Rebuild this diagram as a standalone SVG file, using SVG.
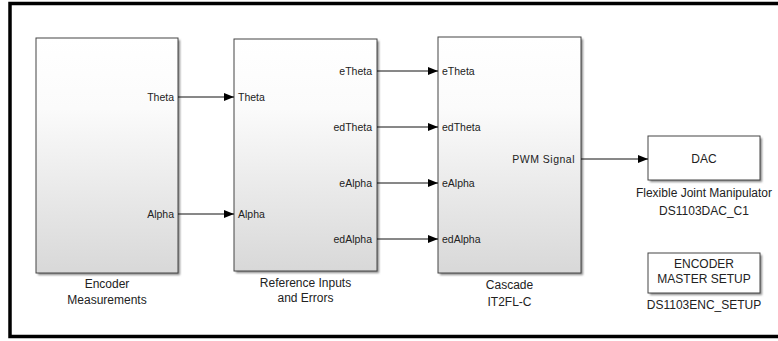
<svg xmlns="http://www.w3.org/2000/svg" width="778" height="341" viewBox="0 0 778 341">
<style>
.blk{stroke:#444;stroke-width:1;}
.grad{fill:url(#g);}
.wht{fill:#fff;}
.sh{fill:#888;filter:url(#blur);}
.pl{font-family:"Liberation Sans",Arial,sans-serif;font-size:10.5px;fill:#222;}
.bl{font-family:"Liberation Sans",Arial,sans-serif;font-size:12px;fill:#222;text-anchor:middle;}
.wire{stroke:#111;stroke-width:1;fill:none;marker-end:url(#ah);}
</style>
<defs>
<linearGradient id="g" x1="0" y1="0" x2="0" y2="1">
<stop offset="0" stop-color="#ffffff"/>
<stop offset="0.3" stop-color="#fbfbfb"/>
<stop offset="1" stop-color="#d8d8d8"/>
</linearGradient>
<filter id="blur" x="-10%" y="-10%" width="120%" height="120%"><feGaussianBlur stdDeviation="1"/></filter>
<marker id="ah" viewBox="0 0 10 8" refX="10" refY="4" markerWidth="10" markerHeight="8" markerUnits="userSpaceOnUse" orient="auto">
<path d="M0,0 L10,4 L0,8 Z" fill="#000"/>
</marker>
</defs>
<rect width="778" height="341" fill="#fff"/>
<path d="M790,3.5 H10 V336.5 H790" fill="none" stroke="#000" stroke-width="3.5"/>

<g id="encoder-measurements">
<rect class="sh" x="38" y="40" width="142" height="235"/>
<rect class="blk grad" x="36" y="38" width="142" height="235"/>
<text class="pl" x="174" y="100.5" text-anchor="end">Theta</text>
<text class="pl" x="174" y="217.5" text-anchor="end">Alpha</text>
<text class="bl" x="107" y="288">Encoder</text>
<text class="bl" x="107" y="304">Measurements</text>
</g>

<g id="reference-inputs">
<rect class="sh" x="236" y="41" width="143" height="232"/>
<rect class="blk grad" x="234" y="39" width="143" height="232"/>
<text class="pl" x="238" y="100.5">Theta</text>
<text class="pl" x="238" y="217.5">Alpha</text>
<text class="pl" x="372" y="74.5" text-anchor="end">eTheta</text>
<text class="pl" x="372" y="130.5" text-anchor="end">edTheta</text>
<text class="pl" x="372" y="186.5" text-anchor="end">eAlpha</text>
<text class="pl" x="372" y="242.5" text-anchor="end">edAlpha</text>
<text class="bl" x="305.5" y="287">Reference Inputs</text>
<text class="bl" x="305.5" y="302">and Errors</text>
</g>

<g id="cascade">
<rect class="sh" x="440" y="39" width="143" height="236"/>
<rect class="blk grad" x="438" y="37" width="143" height="236"/>
<text class="pl" x="442" y="74.5">eTheta</text>
<text class="pl" x="442" y="130.5">edTheta</text>
<text class="pl" x="442" y="186.5">eAlpha</text>
<text class="pl" x="442" y="242.5">edAlpha</text>
<text class="pl" x="575" y="162.5" text-anchor="end" letter-spacing="0.5">PWM Signal</text>
<text class="bl" x="509.5" y="289">Cascade</text>
<text class="bl" x="509.5" y="306">IT2FL-C</text>
</g>

<g id="dac">
<rect class="sh" x="650" y="138" width="112" height="44"/>
<rect class="blk wht" x="648" y="136" width="112" height="44"/>
<text class="bl" x="704" y="162.5">DAC</text>
<text class="bl" x="704" y="197">Flexible Joint Manipulator</text>
<text class="bl" x="704" y="215">DS1103DAC_C1</text>
</g>

<g id="encoder-setup">
<rect class="sh" x="650" y="255" width="112" height="40"/>
<rect class="blk wht" x="648" y="253" width="112" height="40"/>
<text class="bl" x="704" y="267.5">ENCODER</text>
<text class="bl" x="704" y="282.5">MASTER SETUP</text>
<text class="bl" x="704" y="309">DS1103ENC_SETUP</text>
</g>

<g id="connectors">
<line class="wire" x1="178" y1="97" x2="234" y2="97"/>
<line class="wire" x1="178" y1="214" x2="234" y2="214"/>
<line class="wire" x1="377" y1="71" x2="438" y2="71"/>
<line class="wire" x1="377" y1="127" x2="438" y2="127"/>
<line class="wire" x1="377" y1="183" x2="438" y2="183"/>
<line class="wire" x1="377" y1="239" x2="438" y2="239"/>
<line class="wire" x1="581" y1="159" x2="648" y2="159"/>
</g>
</svg>
